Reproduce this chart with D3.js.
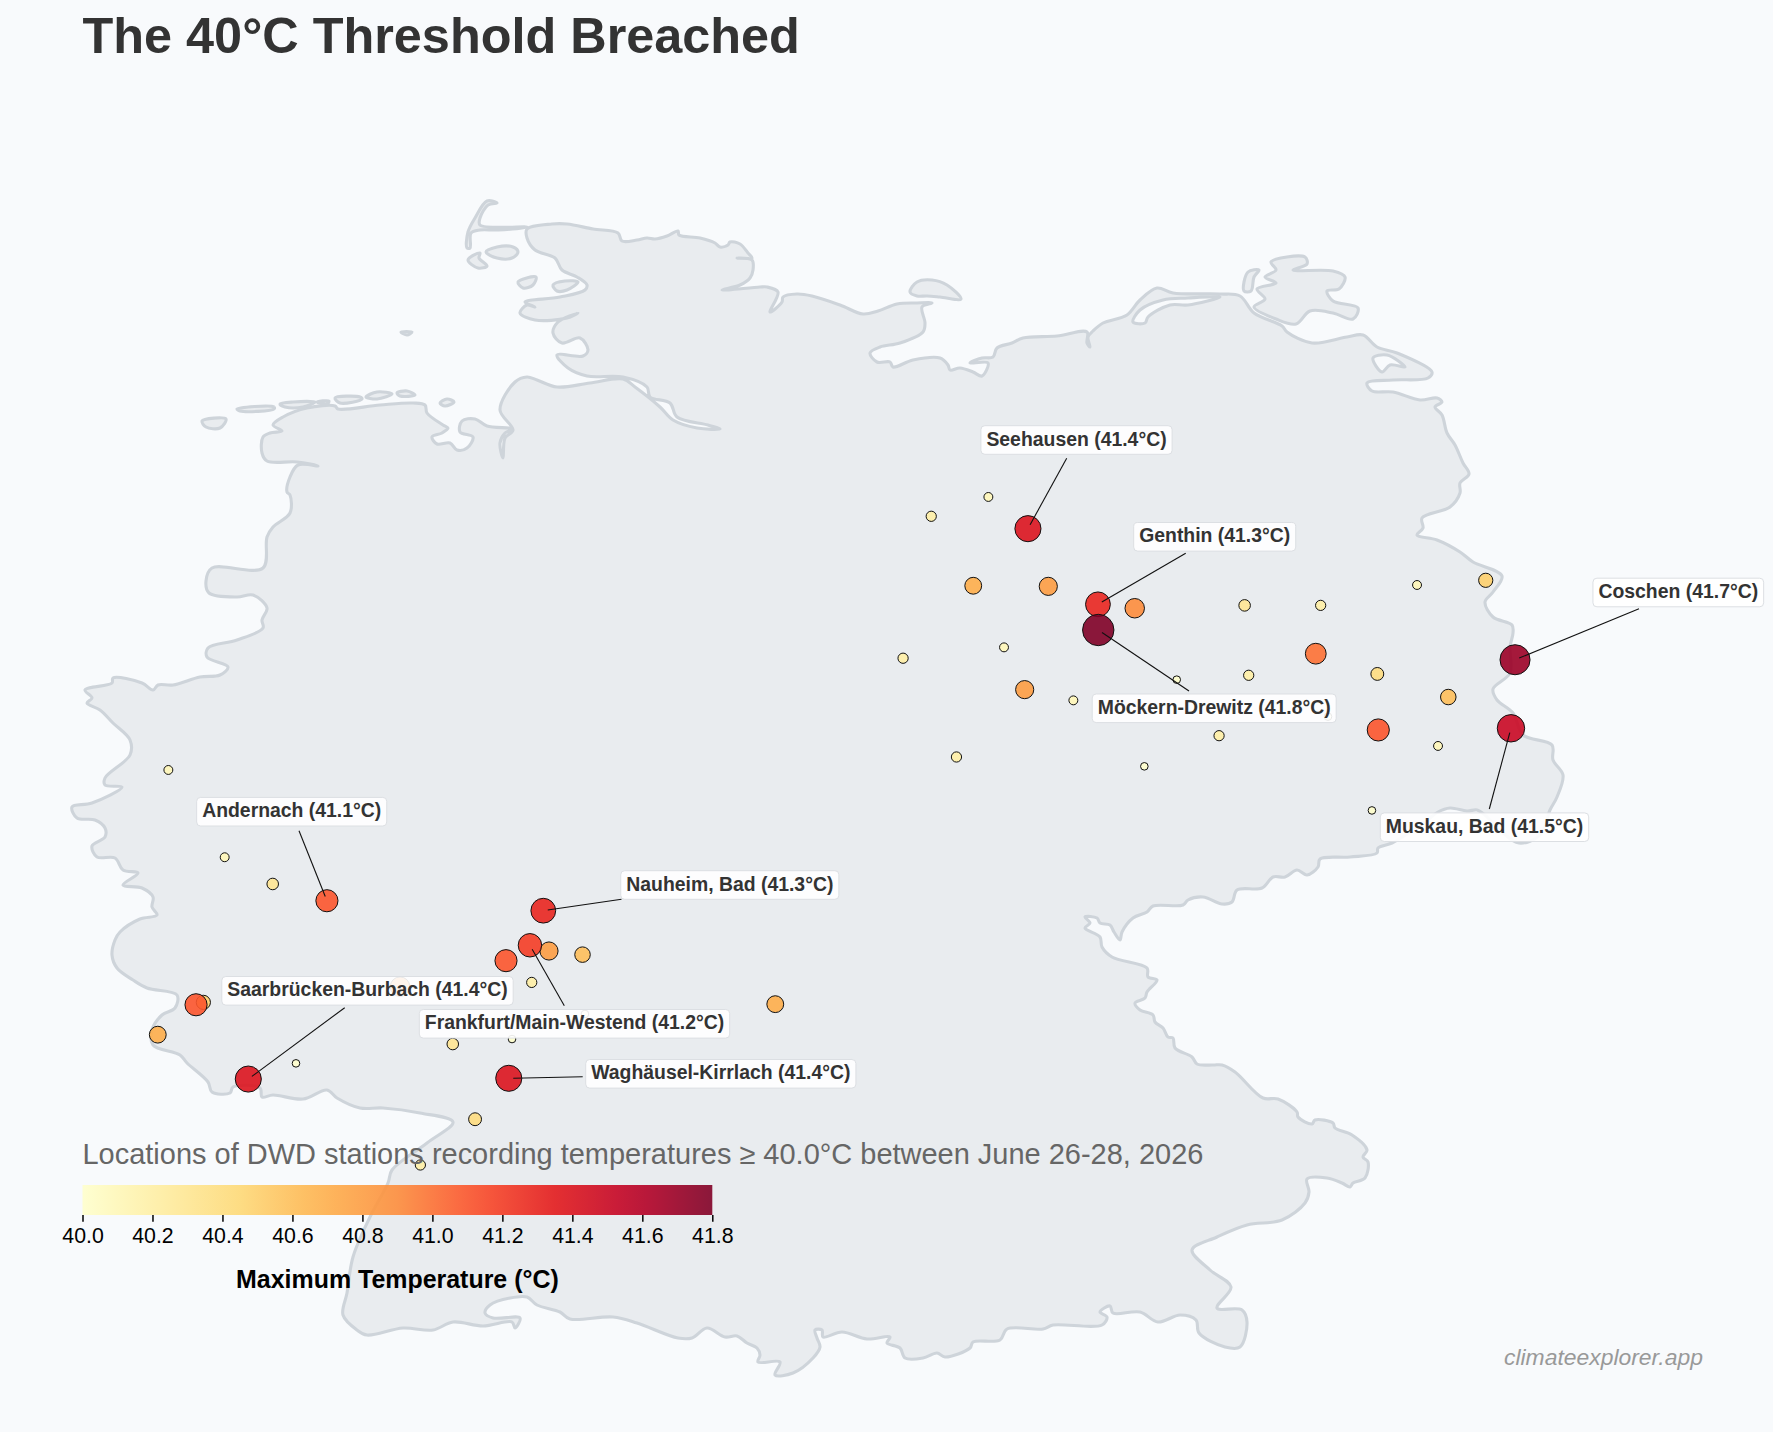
<!DOCTYPE html>
<html><head><meta charset="utf-8">
<script src="https://cdn.jsdelivr.net/npm/d3@7"></script>
<style>
html,body{margin:0;padding:0;background:#f8fafc}
svg{display:block}
text{font-family:"Liberation Sans",Arial,sans-serif}
</style></head><body>
<script>
// ---------- DATA ----------
const titleText = "The 40°C Threshold Breached";
const subtitleText = "Locations of DWD stations recording temperatures ≥ 40.0°C between June 26-28, 2026";
const legendTitle = "Maximum Temperature (°C)";
const creditText = "climateexplorer.app";
const legendTicks = [40.0,40.2,40.4,40.6,40.8,41.0,41.2,41.4,41.6,41.8];

const labelledNames = ["Seehausen","Genthin","Möckern-Drewitz","Coschen","Muskau, Bad","Andernach","Nauheim, Bad","Frankfurt/Main-Westend","Saarbrücken-Burbach","Waghäusel-Kirrlach"];
const labelledLon   = [11.748,12.178,12.180,14.740,14.715,7.442,8.771,8.689,6.959,8.559];
const labelledLat   = [52.880,52.379,52.209,52.012,51.558,50.416,50.350,50.121,49.235,49.240];
const labelledTemp  = [41.4,41.3,41.8,41.7,41.5,41.1,41.3,41.2,41.4,41.4];

const otherLon  = [11.505,11.154,11.412,11.873,12.404,13.079,11.601,10.981,11.728,12.027,12.662,13.104,14.138,14.560,13.546,13.516,13.894,14.330,13.900,12.922,14.267,13.861,13.591,12.463,11.309,6.468,6.814,7.109,8.806,9.012,8.542,8.700,7.891,6.638,6.683,6.403,7.252,8.215,8.579,8.352,8.016,9.027,10.196];
const otherLat  = [53.090,52.962,52.502,52.498,52.353,52.372,52.094,52.022,51.814,51.743,51.880,51.909,52.507,52.538,52.372,52.052,51.918,51.765,51.547,51.509,51.441,51.014,51.635,51.306,51.368,51.282,50.704,50.527,50.083,50.059,50.019,49.875,49.847,49.727,49.743,49.529,49.339,49.467,49.500,48.969,48.666,49.666,49.731];
const otherTemp = [40.1,40.2,40.7,40.8,40.9,40.3,40.1,40.2,40.8,40.1,40.0,40.2,40.1,40.5,40.2,41.0,40.4,40.6,41.1,40.2,40.1,40.0,40.0,40.0,40.2,40.1,40.1,40.3,40.8,40.6,41.1,40.2,40.9,41.1,40.5,40.7,40.0,40.3,40.0,40.4,40.2,40.0,40.7];

// Germany outline: quantised arcs (TopoJSON style), decoded with geoTransform below
const geoTransform = {scale:[1/162.8,-1/151], translate:[5.87-71/162.8, 55.05+201/151]};
const mainlandArc = [[527,229],[552,224],[567,224],[593,229],[618,233],[622,241],[637,240],[647,238],[655,239],[667,236],[678,231],[679,235],[700,238],[715,243],[720,247],[728,245],[730,242],[740,244],[748,253],[752,258],[737,258],[752,260],[753,270],[750,278],[740,285],[722,290],[760,287],[767,287],[778,292],[770,312],[782,302],[783,297],[797,294],[812,296],[840,305],[863,314],[878,311],[897,304],[917,303],[932,303],[922,307],[925,323],[923,332],[900,343],[880,347],[870,353],[877,362],[890,362],[893,367],[913,360],[940,358],[948,365],[950,370],[960,368],[973,372],[982,376],[988,363],[970,363],[982,358],[993,357],[997,348],[1012,343],[1023,338],[1057,336],[1087,332],[1087,343],[1090,347],[1088,337],[1093,331],[1103,323],[1127,315],[1140,300],[1157,288],[1173,293],[1220,294],[1240,296],[1254,313],[1282,326],[1287,332],[1312,343],[1347,337],[1363,335],[1377,347],[1397,353],[1432,372],[1428,378],[1393,380],[1367,383],[1372,391],[1393,392],[1420,400],[1437,398],[1442,402],[1435,407],[1442,415],[1447,433],[1455,445],[1463,463],[1469,474],[1460,483],[1460,493],[1450,507],[1422,518],[1423,528],[1417,535],[1437,540],[1460,552],[1473,562],[1502,576],[1493,592],[1485,602],[1493,617],[1512,625],[1513,633],[1510,647],[1510,673],[1493,689],[1497,700],[1513,713],[1523,735],[1552,745],[1553,760],[1563,775],[1557,797],[1550,810],[1540,835],[1519,843],[1500,830],[1485,815],[1477,810],[1467,811],[1450,808],[1438,812],[1425,822],[1410,832],[1392,843],[1378,848],[1377,853],[1350,857],[1320,859],[1318,867],[1307,875],[1297,870],[1285,877],[1273,877],[1262,888],[1237,890],[1232,902],[1222,904],[1203,897],[1188,900],[1183,905],[1153,906],[1147,912],[1133,918],[1122,932],[1120,940],[1114,932],[1110,925],[1100,923],[1097,918],[1085,917],[1090,923],[1085,928],[1100,937],[1102,947],[1112,957],[1147,968],[1148,977],[1157,980],[1147,992],[1145,998],[1135,1003],[1140,1010],[1153,1015],[1155,1022],[1163,1028],[1168,1037],[1173,1038],[1175,1048],[1192,1057],[1197,1064],[1213,1065],[1222,1065],[1235,1072],[1263,1098],[1278,1099],[1297,1112],[1298,1117],[1312,1124],[1315,1120],[1333,1123],[1335,1128],[1352,1135],[1367,1150],[1363,1157],[1368,1162],[1365,1178],[1353,1183],[1350,1187],[1342,1183],[1327,1178],[1307,1179],[1309,1192],[1305,1203],[1282,1220],[1247,1225],[1217,1237],[1192,1250],[1210,1270],[1231,1287],[1217,1308],[1242,1310],[1247,1322],[1240,1347],[1225,1347],[1199,1333],[1196,1320],[1180,1315],[1158,1322],[1140,1312],[1113,1313],[1110,1306],[1100,1312],[1107,1317],[1102,1325],[1053,1325],[1043,1329],[1007,1329],[1000,1340],[973,1342],[970,1348],[945,1357],[937,1353],[923,1358],[905,1358],[900,1348],[887,1343],[890,1337],[867,1339],[842,1332],[823,1337],[822,1330],[815,1330],[817,1338],[820,1347],[813,1358],[793,1373],[775,1375],[780,1362],[758,1362],[760,1355],[757,1348],[747,1343],[737,1336],[725,1337],[707,1328],[692,1338],[678,1338],[637,1323],[613,1317],[570,1319],[560,1312],[537,1305],[527,1297],[510,1298],[490,1305],[485,1313],[493,1318],[520,1318],[515,1328],[512,1322],[483,1326],[453,1322],[433,1330],[403,1328],[367,1335],[357,1330],[343,1315],[347,1293],[353,1257],[370,1217],[388,1183],[392,1170],[427,1143],[453,1122],[420,1113],[383,1108],[360,1108],[337,1098],[327,1090],[303,1099],[273,1095],[262,1097],[260,1088],[233,1087],[230,1093],[212,1092],[208,1082],[187,1063],[180,1055],[153,1045],[152,1030],[162,1015],[175,1008],[177,995],[147,988],[133,980],[117,968],[112,955],[115,940],[120,932],[140,919],[157,915],[152,907],[153,897],[142,888],[123,885],[138,873],[123,870],[115,858],[97,857],[92,846],[105,837],[105,828],[95,820],[77,818],[72,807],[92,803],[122,787],[105,785],[105,778],[130,755],[130,740],[113,723],[100,710],[87,703],[92,698],[85,690],[112,683],[113,678],[142,683],[153,690],[158,685],[173,685],[200,677],[220,675],[228,667],[207,657],[208,648],[237,640],[263,628],[262,620],[267,608],[253,595],[237,597],[209,593],[206,581],[212,568],[263,568],[267,537],[273,527],[290,513],[290,495],[287,492],[290,477],[298,465],[318,466],[297,462],[267,461],[262,453],[263,437],[270,433],[282,431],[273,425],[283,417],[307,408],[335,406],[338,409],[380,405],[413,403],[425,405],[427,413],[443,425],[448,428],[442,433],[432,437],[437,444],[450,443],[457,450],[467,448],[473,437],[460,432],[462,421],[475,419],[487,426],[512,429],[505,433],[500,443],[503,458],[505,438],[513,430],[500,410],[515,382],[527,377],[537,380],[557,387],[590,383],[623,379],[635,387],[660,407],[673,420],[697,428],[720,429],[708,425],[677,417],[670,403],[650,397],[647,387],[623,377],[587,376],[568,368],[557,355],[583,356],[588,350],[580,338],[562,343],[553,333],[558,322],[578,313],[567,318],[535,320],[520,313],[527,305],[535,307],[525,302],[560,297],[585,290],[587,285],[577,277],[562,270],[555,258],[535,250],[527,238]];
const sideArcs = [
 [[497,203],[487,201],[475,218],[468,232],[467,248],[470,248],[471,233],[480,230],[498,230],[527,227],[480,225],[480,218],[488,205]],
 [[486,252],[497,247],[513,247],[518,252],[512,258],[497,258]],
 [[468,260],[480,253],[479,258],[487,266],[478,268]],
 [[518,282],[536,277],[533,285],[523,288]],
 [[553,285],[565,281],[578,282],[567,290],[557,291]],
 [[401,332],[412,332],[407,335]],
 [[202,421],[226,419],[220,428],[206,427]],
 [[237,409],[274,407],[274,409],[240,411]],
 [[280,404],[293,402],[315,402],[303,407],[285,407]],
 [[317,402],[329,401],[327,404]],
 [[335,398],[360,397],[362,399],[340,403]],
 [[366,397],[377,392],[392,394],[377,399]],
 [[397,393],[407,391],[415,395],[400,396]],
 [[440,403],[447,399],[454,402],[445,406]],
 [[910,292],[917,282],[932,280],[947,285],[961,299],[940,297],[927,296],[917,296]],
 [[1244,291],[1248,272],[1259,270],[1254,277],[1251,291]],
 [[1271,262],[1305,257],[1307,264],[1293,270],[1333,271],[1345,277],[1339,289],[1327,291],[1333,301],[1358,308],[1353,319],[1333,313],[1310,311],[1296,324],[1276,319],[1254,307],[1265,299],[1257,289],[1276,283],[1265,277],[1276,270]]
];
const lagoonArcs = [
 [[1133,322],[1140,310],[1163,300],[1188,298],[1220,297],[1188,305],[1170,305],[1148,317],[1145,323]],
 [[1373,358],[1387,355],[1405,367],[1390,365],[1382,372]],
 [[1299,277],[1313,281],[1310,287],[1293,283]]
];

// Colour ramp stops (YlOrRd) for the temperature domain
const rampColors = ["#ffffcc","#ffeda0","#fed976","#feb24c","#fd8d3c","#fc4e2a","#e31a1c","#bd0026","#800026"];
const tempDomain = [40.0,41.8];

// ---------- LAYOUT ----------
const W=1773,H=1432;
const bg="#f8fafc", land="#e9ecef", coast="#ced4da";
const x=d3.scaleLinear().domain([5.87,15.04]).range([71,71+9.17*162.8]);
const y=d3.scaleLinear().domain([55.05,47.27]).range([201,201+7.78*151]);
const decode=q=>[geoTransform.translate[0]+q[0]*geoTransform.scale[0], geoTransform.translate[1]+q[1]*geoTransform.scale[1]];
const tScale=d3.scaleLinear().domain(tempDomain).range([0,1]);
const color=d3.scaleLinear().domain(rampColors.map((_,i)=>i/(rampColors.length-1))).range(rampColors).interpolate(d3.interpolateRgb);
const colorOf=t=>color(tScale(t));
const radius=d3.scalePow().exponent(1.1).domain(tempDomain).range([3.8,15.7]);

const labelBoxes={ // box centre and leader start, in page pixels
 "Seehausen":[1076.5,440,1066.7,458.3],
 "Genthin":[1214.7,536.8,1185.7,553.3],
 "Möckern-Drewitz":[1214.2,708.3,1189,691],
 "Coschen":[1678.3,592.5,1639,608.7],
 "Muskau, Bad":[1484.5,827.2,1489.3,809],
 "Andernach":[291.7,811.7,299,830.7],
 "Nauheim, Bad":[729.8,885,621.5,899.3],
 "Saarbrücken-Burbach":[367.5,990.8,344.7,1007.7],
 "Frankfurt/Main-Westend":[574.5,1023.8,564.3,1005.7],
 "Waghäusel-Kirrlach":[720.8,1073.8,582.7,1076.7]
};

const svg=d3.select("body").append("svg").attr("width",W).attr("height",H);
svg.append("rect").attr("width",W).attr("height",H).attr("fill",bg);

// map
const line=d3.line().x(d=>x(decode(d)[0])).y(d=>y(decode(d)[1])).curve(d3.curveCatmullRomClosed.alpha(0.5));
const ringPath=r=>line(r);
svg.append("path")
  .attr("d",[mainlandArc,...lagoonArcs].map(ringPath).join(""))
  .attr("fill",land).attr("fill-rule","evenodd")
  .attr("stroke",coast).attr("stroke-width",3.1).attr("stroke-linejoin","round");
svg.append("g").selectAll("path").data(sideArcs).join("path")
  .attr("d",ringPath).attr("fill",land)
  .attr("stroke",coast).attr("stroke-width",3.1).attr("stroke-linejoin","round");

// stations
const stations=[
  ...labelledNames.map((n,i)=>({name:n,lon:labelledLon[i],lat:labelledLat[i],t:labelledTemp[i]})),
  ...otherLon.map((l,i)=>({lon:l,lat:otherLat[i],t:otherTemp[i]}))
].sort((a,b)=>a.t-b.t);
svg.append("g").selectAll("circle").data(stations).join("circle")
  .attr("cx",d=>x(d.lon)).attr("cy",d=>y(d.lat)).attr("r",d=>radius(d.t))
  .attr("fill",d=>colorOf(d.t)).attr("fill-opacity",0.9)
  .attr("stroke","#111").attr("stroke-width",1);

// leaders
const labelled=labelledNames.map((n,i)=>({name:n,lon:labelledLon[i],lat:labelledLat[i],t:labelledTemp[i],box:labelBoxes[n]}));
const leaderEnd=d=>{
  const px=x(d.lon),py=y(d.lat),dx=d.box[2]-px,dy=d.box[3]-py,len=Math.hypot(dx,dy);
  return [px+dx/len*4.5,py+dy/len*4.5];
};
svg.append("g").selectAll("line").data(labelled).join("line")
  .attr("x1",d=>d.box[2]).attr("y1",d=>d.box[3])
  .attr("x2",d=>leaderEnd(d)[0]).attr("y2",d=>leaderEnd(d)[1])
  .attr("stroke","#111").attr("stroke-width",1.1);

// label boxes
const lab=svg.append("g").selectAll("g").data(labelled).join("g")
  .attr("transform",d=>`translate(${d.box[0]},${d.box[1]})`);
lab.append("rect");
const labText=lab.append("text").attr("text-anchor","middle").attr("y",5.6)
  .attr("font-size",19.4).attr("font-weight","bold").attr("fill","#333")
  .text(d=>`${d.name} (${d.t.toFixed(1)}°C)`);
labText.each(function(){
  const w=this.getComputedTextLength();
  d3.select(this.parentNode).select("rect")
    .attr("x",-w/2-5.5).attr("y",-14.3).attr("width",w+11).attr("height",28.6)
    .attr("rx",4).attr("fill","#fff").attr("fill-opacity",0.9)
    .attr("stroke","#dcdfe3").attr("stroke-width",1);
});

// title, subtitle, credit
svg.append("text").attr("x",82.5).attr("y",53).attr("font-size",50.4).attr("font-weight","bold").attr("fill","#333").text(titleText);
svg.append("text").attr("x",82.5).attr("y",1163.5).attr("font-size",28.98).attr("fill","#666").text(subtitleText);
svg.append("text").attr("x",1504).attr("y",1364.5).attr("font-size",22.9).attr("font-style","italic").attr("fill","#999").text(creditText);

// colour bar
const legendX=d3.scaleLinear().domain(tempDomain).range([82.5,712.3]);
const grad=svg.append("defs").append("linearGradient").attr("id","ramp");
d3.range(0,1.0001,0.05).forEach(o=>grad.append("stop").attr("offset",o).attr("stop-color",color(o)).attr("stop-opacity",0.9));
svg.append("rect").attr("x",legendX(40)).attr("y",1185).attr("width",legendX(41.8)-legendX(40)).attr("height",30).attr("fill","url(#ramp)");
const axis=d3.axisBottom(legendX).tickValues(legendTicks).tickFormat(d3.format(".1f")).tickSize(6.7).tickPadding(6.5);
const ax=svg.append("g").attr("transform","translate(0,1215)").call(axis);
ax.select(".domain").remove();
ax.selectAll(".tick line").attr("stroke","#000").attr("stroke-width",1.5);
ax.selectAll(".tick text").attr("font-size",21.3).attr("fill","#000").attr("font-family",'"Liberation Sans",Arial,sans-serif');
svg.append("text").attr("x",397.4).attr("y",1287.5).attr("text-anchor","middle").attr("font-size",24.95).attr("font-weight","bold").attr("fill","#000").text(legendTitle);
</script>
</body></html>
